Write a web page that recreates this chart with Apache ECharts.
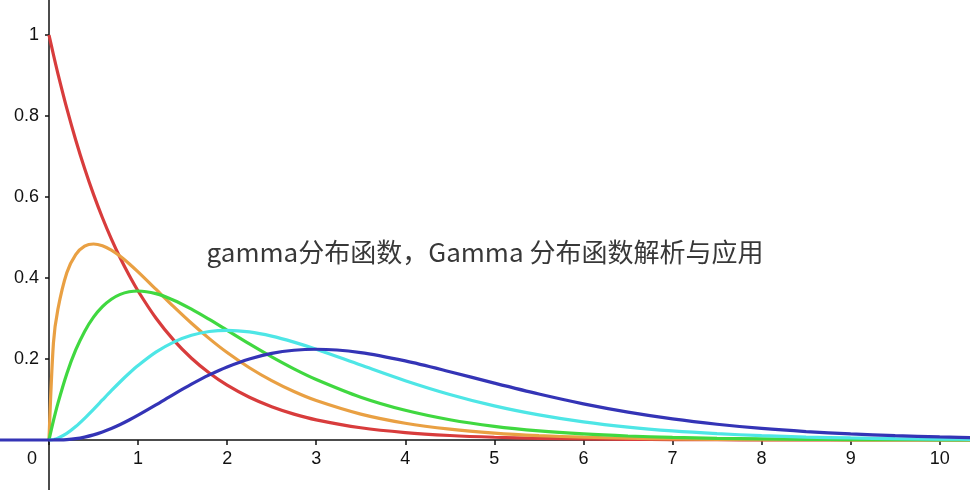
<!DOCTYPE html>
<html><head><meta charset="utf-8">
<script src="https://cdn.jsdelivr.net/npm/echarts@6/dist/echarts.min.js"></script>
<style>html,body{margin:0;padding:0;background:#fff}#c{width:970px;height:490px}</style>
</head><body><div id="c"></div>
<script>
const xs = [0, 0.05, 0.1, 0.2, 0.3, 0.4, 0.5, 0.6, 0.7, 0.8, 0.9, 1.0, 1.2, 1.4, 1.6, 1.8, 2.0, 2.25, 2.5, 2.75, 3, 3.5, 4, 4.5, 5, 5.5, 6, 6.5, 7, 7.5, 8, 8.5, 9, 9.5, 10, 10.5];
const redY = [1, 0.9512, 0.9048, 0.8187, 0.7408, 0.6703, 0.6065, 0.5488, 0.4966, 0.4493, 0.4066, 0.3679, 0.3012, 0.2466, 0.2019, 0.1653, 0.1353, 0.1054, 0.0821, 0.0639, 0.0498, 0.0302, 0.0183, 0.0111, 0.0067, 0.0041, 0.0025, 0.0015, 0.0009, 0.00055, 0.00034, 0.0002, 0.00012, 0.00007, 0.00005, 0.00003];
const orangeY = [0, 0.2400, 0.3229, 0.4131, 0.4578, 0.4784, 0.4839, 0.4797, 0.4688, 0.4535, 0.4353, 0.4151, 0.3723, 0.3292, 0.2882, 0.2503, 0.2159, 0.1784, 0.1465, 0.1196, 0.0973, 0.0638, 0.0413, 0.0266, 0.0170, 0.0108, 0.0069, 0.0043, 0.0027, 0.0017, 0.0011, 0.0007, 0.0004, 0.00026, 0.00016, 0.0001];
const greenY = [0, 0.0476, 0.0905, 0.1637, 0.2222, 0.2681, 0.3033, 0.3293, 0.3476, 0.3595, 0.3659, 0.3679, 0.3614, 0.3452, 0.3230, 0.2975, 0.2707, 0.2371, 0.2052, 0.1757, 0.1494, 0.1057, 0.0733, 0.0500, 0.0337, 0.0225, 0.0149, 0.0098, 0.0064, 0.0041, 0.0027, 0.0017, 0.0011, 0.0007, 0.00045, 0.0003];
const cyanY = [0, 0.0012, 0.0045, 0.0164, 0.0333, 0.0536, 0.0758, 0.0988, 0.1217, 0.1438, 0.1647, 0.1839, 0.2169, 0.2417, 0.2584, 0.2678, 0.2707, 0.2668, 0.2565, 0.2416, 0.2240, 0.1850, 0.1465, 0.1125, 0.0842, 0.0619, 0.0446, 0.0317, 0.0223, 0.0156, 0.0107, 0.0073, 0.0050, 0.0034, 0.0023, 0.0015];
const blueY = [0, 0.00002, 0.00015, 0.0011, 0.0033, 0.0072, 0.0126, 0.0198, 0.0284, 0.0383, 0.0494, 0.0613, 0.0867, 0.1128, 0.1378, 0.1607, 0.1804, 0.2001, 0.2138, 0.2215, 0.2240, 0.2158, 0.1952, 0.1686, 0.1404, 0.1134, 0.0892, 0.0688, 0.0521, 0.0389, 0.0286, 0.0208, 0.0149, 0.0107, 0.0076, 0.0053];
const blueLeftX = [-0.6, 0];
const blueLeftY = [0, 0];
const xTicks = [0, 1, 2, 3, 4, 5, 6, 7, 8, 9, 10];
const yTicks = [0.2, 0.4, 0.6, 0.8, 1];
const titleText = 'gamma分布函数，Gamma 分布函数解析与应用';

const pair = (a, b) => a.map((v, i) => [v, b[i]]);
const mk = (name, data, color) => ({
  name, type: 'line', data, smooth: 0.3, showSymbol: false, symbol: 'none',
  lineStyle: { color, width: 3.2 }, itemStyle: { color }, clip: true, z: 3
});
const chart = echarts.init(document.getElementById('c'), null, { renderer: 'canvas' });
chart.setOption({
  animation: false,
  backgroundColor: '#fff',
  title: {
    text: titleText, left: 'center', top: 234,
    textStyle: { fontFamily: 'Noto Sans CJK SC', fontSize: 26, fontWeight: 'normal', color: '#383838' }
  },
  grid: { left: 0, right: 0, top: 0, bottom: 0, containLabel: false, outerBoundsMode: 'none' },
  xAxis: {
    type: 'value', min: -0.55, max: 10.34, position: 'bottom', offset: -50,
    splitLine: { show: false },
    axisLine: { onZero: false, lineStyle: { color: '#111', width: 1.5 } },
    axisTick: { show: true, length: 5, customValues: xTicks, lineStyle: { color: '#111', width: 1.5 } },
    axisLabel: {
      customValues: xTicks, margin: 10, color: '#111', fontSize: 18, fontFamily: 'Liberation Sans',
      formatter: v => v === 0 ? '{z|0}' : String(v),
      rich: { z: { padding: [0, 34, 0, 0], fontSize: 18, color: '#111', fontFamily: 'Liberation Sans' } }
    }
  },
  yAxis: {
    type: 'value', min: -0.1235, max: 1.0864, position: 'left', offset: -49,
    splitLine: { show: false },
    axisLine: { onZero: false, lineStyle: { color: '#111', width: 1.5 } },
    axisTick: { show: true, length: 4, customValues: yTicks, lineStyle: { color: '#111', width: 1.5 } },
    axisLabel: {
      customValues: yTicks, margin: 10, color: '#111', fontSize: 18, fontFamily: 'Liberation Sans',
      formatter: v => String(Math.round(v * 10) / 10)
    }
  },
  series: [
    mk('red', pair(xs, redY), '#d83c3c'),
    mk('orange', pair(xs, orangeY), '#e9a043'),
    mk('green', pair(xs, greenY), '#40d840'),
    mk('cyan', pair(xs, cyanY), '#4ee6e6'),
    mk('blue', pair(blueLeftX, blueLeftY).concat(pair(xs, blueY).slice(1)), '#3434b6')
  ]
});
</script></body></html>
